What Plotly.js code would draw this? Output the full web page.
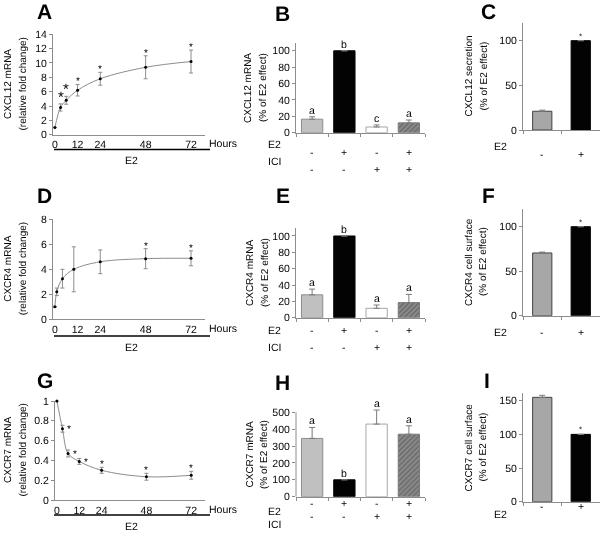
<!DOCTYPE html>
<html><head><meta charset="utf-8">
<script src="https://cdn.plot.ly/plotly-3.0.1.min.js"></script>
<style>
html,body{margin:0;padding:0;background:#fff}
#chart{width:603px;height:533px;will-change:transform;transform:translateZ(0);opacity:0.99}
#chart text{text-rendering:geometricPrecision}
</style>
</head><body><div id="chart"></div>
<script>
// ---------- DATA ----------
const hourTicks = [0, 12, 24, 48, 72];

// A: CXCL12 mRNA time course (relative fold change)
const hoursA = [0, 3, 6, 12, 24, 48, 72];
const cxcl12Fold = [1.0, 3.8, 4.8, 6.2, 7.8, 9.4, 10.2];
const cxcl12FoldErr = [0, 0.5, 0.55, 0.8, 0.9, 1.6, 1.6];
const cxcl12FoldSig = ['', '*', '*', '*', '*', '*', '*'];

// D: CXCR4 mRNA time course
const hoursD = [0, 1, 4, 10, 24, 48, 72];
const cxcr4Fold = [1.0, 2.2, 3.25, 4.0, 4.6, 4.85, 4.88];
const cxcr4FoldErr = [0, 0.3, 0.75, 1.8, 0.95, 0.8, 0.6];
const cxcr4FoldSig = ['', '', '', '', '', '*', '*'];

// G: CXCR7 mRNA time course
const hoursG = [0, 3, 6, 12, 24, 48, 72];
const cxcr7Fold = [1.0, 0.72, 0.47, 0.39, 0.30, 0.235, 0.25];
const cxcr7FoldErr = [0, 0.035, 0.035, 0.03, 0.03, 0.035, 0.04];
const cxcr7FoldSig = ['', '*', '*', '*', '*', '*', '*'];

// B/E/H: E2 / ICI treatment groups
const treatGroups = ['E2- ICI-', 'E2+ ICI-', 'E2- ICI+', 'E2+ ICI+'];
const e2Signs = ['-', '+', '-', '+'];
const iciSigns = ['-', '-', '+', '+'];

const cxcl12Pct = [16.5, 100, 7, 12];
const cxcl12PctErr = [3, 0, 2.5, 3.5];
const cxcl12Letters = ['a', 'b', 'c', 'a'];

const cxcr4Pct = [28, 100, 11.5, 18.5];
const cxcr4PctErr = [7, 0, 4, 10];
const cxcr4Letters = ['a', 'b', 'a', 'a'];

const cxcr7Pct = [345, 100, 430, 370];
const cxcr7PctErr = [65, 0, 83, 50];
const cxcr7Letters = ['a', 'b', 'a', 'a'];

// C/F/I: E2 only
const e2Groups = ['E2-', 'E2+'];
const e2OnlySigns = ['-', '+'];
const cxcl12Secretion = [21, 100];
const cxcl12SecretionErr = [1.2, 0];
const cxcr4Surface = [70.5, 100];
const cxcr4SurfaceErr = [1, 0];
const cxcr7Surface = [155, 100];
const cxcr7SurfaceErr = [3, 0];
const e2OnlySig = ['', '*'];

// ---------- HELPERS ----------
const W = 603, H = 533;
const FONT = '"Liberation Sans", Arial, sans-serif';
const AXC = '#8c8c8c';
const fx = p => p / W;
const fy = p => 1 - p / H;

const traces = [];
const layout = {
  width: W, height: H, margin: {l: 0, r: 0, t: 0, b: 0},
  showlegend: false, paper_bgcolor: '#fff', plot_bgcolor: 'rgba(0,0,0,0)',
  font: {family: FONT, size: 9.5, color: '#000'},
  annotations: [], shapes: []
};

function suf(p) { return p === 1 ? '' : String(p); }

function addText(text, x, y, opts) {
  layout.annotations.push(Object.assign({
    text: text, x: x, y: y, xref: 'paper', yref: 'paper', showarrow: false,
    xanchor: 'center', yanchor: 'middle', font: {family: FONT, size: 9.5, color: '#000'}
  }, opts || {}));
}

function yTitle(l1, l2, x1, x2, yc) {
  addText(l1, fx(x1), fy(yc), {textangle: -90, font: {family: FONT, size: 10, color: '#000'}});
  addText(l2, fx(x2), fy(yc), {textangle: -90, font: {family: FONT, size: 10, color: '#000'}});
}

function panelLetter(t, x, y) {
  addText('<b>' + t + '</b>', fx(x), fy(y), {font: {family: FONT, size: 21, color: '#000'}});
}

function timePanel(p, box, hours, vals, errs, sig, yr, dtick, title1, starMode) {
  const s = suf(p);
  layout['xaxis' + s] = {
    domain: [fx(box.x0), fx(box.x1)], range: [-1, 79.4], anchor: 'y' + s,
    showline: true, linecolor: AXC, linewidth: 1, ticks: '', tickvals: hourTicks,
    showgrid: false, zeroline: false, tickfont: {size: 10.5}
  };
  layout['yaxis' + s] = {
    domain: [fy(box.y1), fy(box.y0)], range: yr, anchor: 'x' + s,
    showline: true, linecolor: AXC, linewidth: 1, ticks: 'outside', ticklen: 3,
    tickcolor: AXC, dtick: dtick, showgrid: false, zeroline: false, tickfont: {size: 10.5}
  };
  traces.push({
    type: 'scatter', mode: 'lines+markers', x: hours, y: vals,
    xaxis: 'x' + s, yaxis: 'y' + s,
    line: {color: '#8c8c8c', width: 1, shape: 'spline', smoothing: 1},
    marker: {color: '#000', size: 3},
    error_y: {type: 'data', array: errs, color: '#8c8c8c', thickness: 1, width: 2},
    cliponaxis: false
  });
  sig.forEach((st, i) => {
    if (!st) return;
    const ann = {text: st, x: hours[i], xref: 'x' + s, yref: 'y' + s, showarrow: false,
      font: {family: FONT, size: 10, color: '#000'}};
    if (starMode === 'big2' && i <= 2) {
      ann.font.size = 15; ann.y = vals[i] + errs[i]; ann.yanchor = 'bottom'; ann.yshift = -3;
    } else if (starMode === 'side' && i <= 3) {
      ann.y = vals[i]; ann.yanchor = 'middle'; ann.xshift = 7;
    } else {
      ann.y = vals[i] + errs[i]; ann.yanchor = 'bottom'; ann.yshift = -4;
    }
    layout.annotations.push(ann);
  });
  layout.shapes.push({type: 'line', xref: 'paper', yref: 'paper',
    x0: fx(54), x1: fx(210), y0: fy(box.lineY), y1: fy(box.lineY),
    line: {color: '#000', width: 1.5}});
  addText('E2', fx(131.7), fy(box.lineY + 11), {font: {family: FONT, size: 10.5, color: '#000'}});
  addText('Hours', fx(207), fy(box.y1 + 8.5), {xanchor: 'left', font: {family: FONT, size: 10.5, color: '#000'}});
  yTitle(title1, '(relative fold change)', 7.5, 22, (box.y0 + box.y1) / 2);
}

const barStyle4 = {
  color: ['#c0c0c0', '#000000', '#ffffff', '#8a8a8a'],
  line: ['#8c8c8c', '#000000', '#a6a6a6', '#7a7a7a'],
  pattern: ['', '', '', '/']
};
const barStyle2 = {
  color: ['#a6a6a6', '#000000'],
  line: ['#404040', '#000000'],
  pattern: ['', '']
};

// axisTop: value where the y axis line ends (range may extend above for labels)
function barPanel(p, box, groups, vals, errs, yr, dtick, axisTop, style, width, labels, labelSize) {
  const s = suf(p);
  const extended = yr[1] > axisTop;
  layout['xaxis' + s] = {
    type: 'category', domain: [fx(box.x0), fx(box.x1)], range: [-0.5, groups.length - 0.5],
    anchor: 'y' + s, showline: true, linecolor: AXC, linewidth: 1, ticks: 'outside',
    tickson: 'boundaries', ticklen: 3, tickcolor: AXC, showticklabels: false,
    showgrid: false, zeroline: false
  };
  const tv = [];
  for (let v = 0; v <= axisTop + 1e-9; v += dtick) tv.push(v);
  layout['yaxis' + s] = {
    domain: [fy(box.y1), fy(box.y0)], range: yr, anchor: 'x' + s,
    showline: !extended, linecolor: AXC, linewidth: 1, ticks: 'outside', ticklen: 3,
    tickcolor: AXC, tickmode: 'array', tickvals: tv, showgrid: false, zeroline: false,
    tickfont: {size: 10.5}
  };
  if (extended) {
    layout.shapes.push({type: 'line', xref: 'x' + s + ' domain', yref: 'y' + s,
      x0: 0, x1: 0, y0: 0, y1: axisTop, line: {color: AXC, width: 1}});
  }
  traces.push({
    type: 'bar', x: groups, y: vals, xaxis: 'x' + s, yaxis: 'y' + s, width: width,
    marker: {color: style.color, line: {color: style.line, width: 1},
      pattern: {shape: style.pattern, fillmode: 'overlay', fgcolor: '#5e5e5e', size: 3.5, solidity: 0.4}},
    error_y: {type: 'data', symmetric: false, array: errs, arrayminus: errs.map(() => 0),
      color: '#7a7a7a', thickness: 1, width: 3}
  });
  labels.forEach((t, i) => {
    if (!t) return;
    layout.annotations.push({text: t, x: groups[i], y: vals[i] + errs[i], xref: 'x' + s, yref: 'y' + s,
      showarrow: false, yanchor: 'bottom', yshift: t === '*' ? -2 : -1,
      font: {family: FONT, size: labelSize, color: '#000'}});
  });
}

function signRow(p, groups, signs, label, py, labelRight) {
  const s = suf(p);
  addText(label, fx(labelRight), fy(py), {xanchor: 'right', font: {family: FONT, size: 10.5, color: '#000'}});
  signs.forEach((g, i) => {
    layout.annotations.push({text: g, x: groups[i], y: fy(py), xref: 'x' + s, yref: 'paper',
      showarrow: false, font: {family: FONT, size: 10.5, color: '#000'}});
  });
}

// ---------- PANELS ----------
timePanel(1, {x0: 53, x1: 205, y0: 34.3, y1: 134.7, lineY: 149.5}, hoursA, cxcl12Fold, cxcl12FoldErr,
  cxcl12FoldSig, [0, 14], 2, 'CXCL12 mRNA', 'big2');
timePanel(4, {x0: 53, x1: 205, y0: 219.3, y1: 319.3, lineY: 336}, hoursD, cxcr4Fold, cxcr4FoldErr,
  cxcr4FoldSig, [0, 8], 2, 'CXCR4 mRNA', 'normal');
timePanel(7, {x0: 55, x1: 205, y0: 401, y1: 500, lineY: 515}, hoursG, cxcr7Fold, cxcr7FoldErr,
  cxcr7FoldSig, [0, 1], 0.2, 'CXCR7 mRNA', 'side');

// B
barPanel(2, {x0: 296, x1: 425, y0: 42.6, y1: 132.7}, treatGroups, cxcl12Pct, cxcl12PctErr,
  [0, 110], 20, 110, barStyle4, 0.66, cxcl12Letters, 10.5);
signRow(2, treatGroups, e2Signs, 'E2', 144, 283);
signRow(2, treatGroups, iciSigns, 'ICI', 161, 283);
yTitle('CXCL12 mRNA', '(% of E2 effect)', 247, 262, 88);

// E
barPanel(5, {x0: 296, x1: 425, y0: 227.8, y1: 317.7}, treatGroups, cxcr4Pct, cxcr4PctErr,
  [0, 110], 20, 110, barStyle4, 0.66, cxcr4Letters, 10.5);
signRow(5, treatGroups, e2Signs, 'E2', 330, 283);
signRow(5, treatGroups, iciSigns, 'ICI', 346.5, 283);
yTitle('CXCR4 mRNA', '(% of E2 effect)', 249, 264, 273);

// H  (axis line ends at 500; range extended so the top label stays visible)
barPanel(8, {x0: 296, x1: 425, y0: 405.5, y1: 496.7}, treatGroups, cxcr7Pct, cxcr7PctErr,
  [0, 540], 100, 500, barStyle4, 0.66, cxcr7Letters, 10.5);
signRow(8, treatGroups, e2Signs, 'E2', 511, 283);
signRow(8, treatGroups, iciSigns, 'ICI', 524, 283);
yTitle('CXCR7 mRNA', '(% of E2 effect)', 249, 263.5, 454.5);

// C
barPanel(3, {x0: 523, x1: 600, y0: 22.8, y1: 130}, e2Groups, cxcl12Secretion, cxcl12SecretionErr,
  [0, 120], 50, 120, barStyle2, 0.5, e2OnlySig, 8);
signRow(3, e2Groups, e2OnlySigns, 'E2', 145.7, 509);
yTitle('CXCL12 secretion', '(% of E2 effect)', 468, 483, 76.5);

// F
barPanel(6, {x0: 523, x1: 600, y0: 208.9, y1: 315.7}, e2Groups, cxcr4Surface, cxcr4SurfaceErr,
  [0, 120], 50, 120, barStyle2, 0.5, e2OnlySig, 8);
signRow(6, e2Groups, e2OnlySigns, 'E2', 331.7, 509);
yTitle('CXCR4 cell surface', '(% of E2 effect)', 468, 482, 262);

// I
barPanel(9, {x0: 523, x1: 600, y0: 393.3, y1: 501.7}, e2Groups, cxcr7Surface, cxcr7SurfaceErr,
  [0, 161], 50, 161, barStyle2, 0.5, e2OnlySig, 8);
signRow(9, e2Groups, e2OnlySigns, 'E2', 514.3, 509);
yTitle('CXCR7 cell surface', '(% of E2 effect)', 468, 482, 447.5);

// Panel letters
panelLetter('A', 45, 12); panelLetter('B', 282, 13); panelLetter('C', 488, 12);
panelLetter('D', 45, 195); panelLetter('E', 283, 195); panelLetter('F', 488, 195);
panelLetter('G', 45, 380); panelLetter('H', 282, 382); panelLetter('I', 487, 380);

Plotly.newPlot('chart', traces, layout, {staticPlot: true, displayModeBar: false});
</script>
</body></html>
